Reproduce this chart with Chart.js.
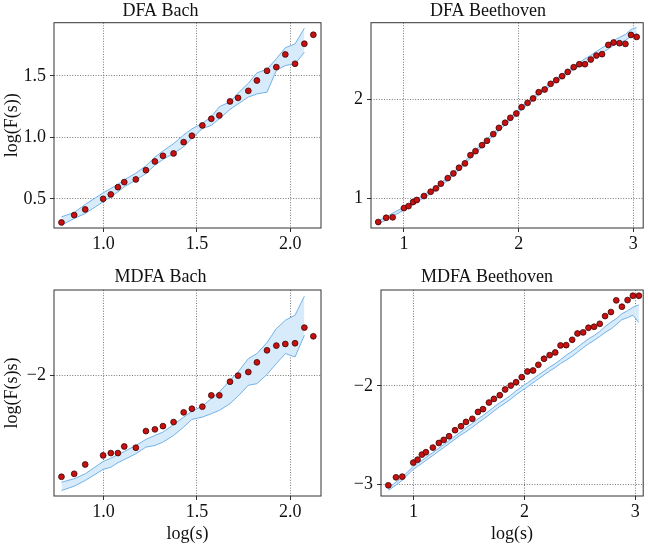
<!DOCTYPE html>
<html><head><meta charset="utf-8">
<script src="https://cdn.jsdelivr.net/npm/chart.js@4/dist/chart.umd.min.js"></script>
<style>
html,body{margin:0;padding:0;background:#fff;}
body{width:648px;height:546px;position:relative;overflow:hidden;}
canvas{position:absolute;}
</style></head><body>
<canvas id="c1" width="330" height="250" style="left:0px;top:0px;width:330px;height:250px"></canvas>
<canvas id="c2" width="318" height="250" style="left:330px;top:0px;width:318px;height:250px"></canvas>
<canvas id="c3" width="330" height="281" style="left:0px;top:265px;width:330px;height:281px"></canvas>
<canvas id="c4" width="318" height="281" style="left:330px;top:265px;width:318px;height:281px"></canvas>
<script>
// ---------- data ----------
const bachX = [0.775,0.843,0.902,0.998,1.039,1.077,1.111,1.173,1.227,1.275,1.318,1.375,1.429,1.473,1.529,1.577,1.620,1.677,1.720,1.775,1.821,1.875,1.925,1.973,2.025,2.075,2.123];
const dfaBachY = [0.309,0.369,0.415,0.501,0.537,0.596,0.637,0.659,0.734,0.805,0.851,0.870,0.962,1.014,1.098,1.152,1.179,1.293,1.322,1.379,1.463,1.542,1.572,1.675,1.599,1.762,1.835];
const dfaBachUpper = [0.355,0.390,0.455,0.550,0.585,0.620,0.655,0.710,0.770,0.840,0.890,0.950,1.020,1.070,1.115,1.168,1.250,1.290,1.360,1.440,1.525,1.555,1.640,1.730,1.760,1.889];
const dfaBachLower = [0.287,0.341,0.382,0.477,0.518,0.558,0.599,0.653,0.707,0.775,0.821,0.870,0.924,0.992,1.073,1.098,1.151,1.228,1.273,1.328,1.354,1.368,1.545,1.585,1.598,1.693];

const beetX = [0.776,0.845,0.902,1.000,1.040,1.080,1.112,1.175,1.233,1.279,1.322,1.382,1.431,1.480,1.532,1.580,1.624,1.681,1.724,1.779,1.828,1.882,1.928,1.980,2.026,2.078,2.126,2.175,2.227,2.279,2.328,2.379,2.428,2.480,2.529,2.578,2.629,2.678,2.727,2.782,2.828,2.879,2.931,2.980,3.029];
const dfaBeetY = [0.766,0.809,0.813,0.906,0.926,0.967,0.987,1.027,1.070,1.104,1.151,1.207,1.254,1.311,1.355,1.438,1.478,1.538,1.582,1.649,1.712,1.763,1.813,1.856,1.920,1.963,2.007,2.070,2.097,2.154,2.191,2.231,2.274,2.321,2.351,2.351,2.398,2.438,2.452,2.545,2.569,2.562,2.555,2.645,2.625];
const dfaBeetUpper = [0.78,0.815,0.855,0.915,0.94,0.97,0.995,1.04,1.08,1.115,1.16,1.215,1.265,1.32,1.375,1.44,1.49,1.55,1.60,1.66,1.715,1.77,1.82,1.87,1.925,1.975,2.02,2.075,2.115,2.165,2.205,2.245,2.285,2.33,2.37,2.405,2.44,2.48,2.515,2.555,2.59,2.62,2.65,2.70,2.72];
const dfaBeetLower = [0.75,0.785,0.825,0.885,0.91,0.94,0.965,1.01,1.05,1.085,1.13,1.185,1.235,1.29,1.345,1.41,1.46,1.52,1.57,1.63,1.685,1.74,1.79,1.84,1.895,1.945,1.99,2.045,2.085,2.135,2.175,2.215,2.255,2.30,2.33,2.355,2.39,2.43,2.465,2.505,2.54,2.57,2.59,2.63,2.66];

const mdfaBachY = [-2.815,-2.791,-2.716,-2.643,-2.624,-2.624,-2.571,-2.581,-2.447,-2.433,-2.407,-2.374,-2.296,-2.267,-2.250,-2.159,-2.159,-2.049,-2.000,-1.971,-1.893,-1.796,-1.758,-1.745,-1.739,-1.613,-1.683];
const mdfaBachUpper = [-2.859,-2.831,-2.791,-2.692,-2.665,-2.638,-2.611,-2.563,-2.514,-2.482,-2.455,-2.395,-2.334,-2.288,-2.245,-2.186,-2.132,-2.038,-1.971,-1.863,-1.822,-1.734,-1.621,-1.554,-1.513,-1.360];
const mdfaBachLower = [-2.926,-2.891,-2.845,-2.756,-2.738,-2.702,-2.676,-2.630,-2.576,-2.563,-2.536,-2.482,-2.415,-2.353,-2.334,-2.307,-2.280,-2.226,-2.165,-2.078,-2.065,-1.990,-1.903,-1.822,-1.850,-1.675];

const mBeetX = [0.772,0.841,0.898,0.997,1.036,1.075,1.111,1.174,1.228,1.272,1.320,1.374,1.428,1.473,1.530,1.581,1.626,1.680,1.725,1.778,1.826,1.877,1.925,1.976,2.027,2.078,2.126,2.177,2.228,2.278,2.326,2.377,2.431,2.479,2.530,2.578,2.629,2.680,2.728,2.781,2.829,2.880,2.931,2.979,3.033];
const mdfaBeetY = [-3.007,-2.926,-2.919,-2.777,-2.747,-2.696,-2.672,-2.625,-2.578,-2.547,-2.510,-2.449,-2.409,-2.365,-2.334,-2.264,-2.236,-2.169,-2.132,-2.095,-2.037,-1.997,-1.963,-1.912,-1.855,-1.845,-1.787,-1.726,-1.689,-1.662,-1.591,-1.588,-1.534,-1.470,-1.459,-1.412,-1.402,-1.372,-1.294,-1.253,-1.135,-1.199,-1.132,-1.088,-1.088];
const mdfaBeetUpper = [-3.037,-2.975,-2.925,-2.815,-2.785,-2.755,-2.725,-2.675,-2.63,-2.595,-2.555,-2.51,-2.465,-2.425,-2.38,-2.335,-2.30,-2.255,-2.215,-2.17,-2.135,-2.095,-2.05,-2.01,-1.97,-1.93,-1.89,-1.85,-1.81,-1.775,-1.735,-1.69,-1.65,-1.61,-1.565,-1.525,-1.49,-1.45,-1.40,-1.355,-1.32,-1.27,-1.24,-1.205,-1.18];
const mdfaBeetLower = [-3.057,-3.005,-2.955,-2.845,-2.815,-2.785,-2.755,-2.705,-2.66,-2.625,-2.585,-2.54,-2.495,-2.465,-2.42,-2.375,-2.34,-2.295,-2.255,-2.21,-2.175,-2.135,-2.09,-2.05,-2.01,-1.97,-1.93,-1.89,-1.85,-1.815,-1.775,-1.74,-1.70,-1.66,-1.615,-1.575,-1.54,-1.50,-1.46,-1.425,-1.38,-1.33,-1.31,-1.285,-1.36];

// tick values and labels
const bachXTicks = [1.0, 1.5, 2.0];
const bachXLabels = ['1.0', '1.5', '2.0'];
const beetXTicks = [1, 2, 3];
const beetXLabels = ['1', '2', '3'];
const dfaBachYTicks = [0.5, 1.0, 1.5];
const dfaBachYLabels = ['0.5', '1.0', '1.5'];
const dfaBeetYTicks = [1, 2];
const dfaBeetYLabels = ['1', '2'];
const mdfaBachYTicks = [-2];
const mdfaBachYLabels = ['\u22122'];
const mdfaBeetYTicks = [-3, -2];
const mdfaBeetYLabels = ['\u22123', '\u22122'];

// ---------- drawing ----------
const FONT = "'Liberation Serif','Times New Roman',serif";
const FS = 18;
const pts = (xs, ys) => ys.map((y, i) => ({x: xs[i], y}));

const framePlugin = {
  id: 'frame',
  afterDraw(chart) {
    const {ctx, chartArea: a} = chart;
    ctx.save();
    ctx.strokeStyle = '#333';
    ctx.lineWidth = 1;
    ctx.strokeRect(a.left, a.top, a.right - a.left, a.bottom - a.top);
    ctx.restore();
  }
};

function axis(min, max, tv, tl, title, size, isX) {
  return {
    type: 'linear', min, max,
    afterBuildTicks: s => { s.ticks = tv.map(v => ({value: v})); },
    afterFit: s => { if (isX) s.height = size; else s.width = size; },
    ticks: {
      callback: (v, i) => tl[i], font: {family: FONT, size: FS}, color: '#111',
      padding: isX ? 1 : 4, maxRotation: 0, autoSkip: false
    },
    grid: {
      color: '#555', lineWidth: 0.8, tickLength: 4, tickColor: '#333', tickWidth: 1,
      tickBorderDash: [], drawTicks: true
    },
    border: {display: false, dash: [1, 1.6]},
    title: {
      display: !!title, text: title, color: '#111', font: {family: FONT, size: FS},
      padding: isX ? {top: 0, bottom: 0.5} : {top: 1.5, bottom: 0}
    }
  };
}

function makeChart(id, o) {
  new Chart(document.getElementById(id), {
    type: 'scatter',
    data: {
      datasets: [
        {
          data: pts(o.xs, o.ys), pointRadius: 2.9, pointBackgroundColor: '#c81010',
          pointBorderColor: '#3a0505', pointBorderWidth: 0.8, showLine: false
        },
        {
          type: 'line', data: pts(o.xs, o.up), borderColor: '#72b2e8', borderWidth: 1,
          pointRadius: 0, tension: 0, fill: false
        },
        {
          type: 'line', data: pts(o.xs, o.lo), borderColor: '#72b2e8', borderWidth: 1,
          pointRadius: 0, tension: 0, fill: '-1', backgroundColor: '#d8ebfa'
        }
      ]
    },
    options: {
      responsive: false, animation: false, devicePixelRatio: 1,
      layout: {padding: {left: 0, right: o.padRight, top: 0, bottom: 0}},
      plugins: {
        legend: {display: false}, tooltip: {enabled: false},
        title: {
          display: true, text: o.title, color: '#111',
          font: {family: FONT, size: FS, weight: 'normal'},
          padding: o.titlePad
        }
      },
      scales: {
        x: axis(o.xMin, o.xMax, o.xTicks, o.xLabels, o.xTitle, o.xHeight, true),
        y: axis(o.yMin, o.yMax, o.yTicks, o.yLabels, o.yTitle, o.yWidth, false)
      }
    },
    plugins: [framePlugin]
  });
}

makeChart('c1', {
  title: 'DFA Bach', xs: bachX, ys: dfaBachY, up: dfaBachUpper, lo: dfaBachLower,
  xMin: 0.735, xMax: 2.164, yMin: 0.264, yMax: 1.933,
  xTicks: bachXTicks, xLabels: bachXLabels, yTicks: dfaBachYTicks, yLabels: dfaBachYLabels,
  yTitle: 'log(F(s))', xTitle: '', yWidth: 54, xHeight: 22, padRight: 9,
  titlePad: {top: 0, bottom: 1.1}
});
makeChart('c2', {
  title: 'DFA Beethoven', xs: beetX, ys: dfaBeetY, up: dfaBeetUpper, lo: dfaBeetLower,
  xMin: 0.713, xMax: 3.086, yMin: 0.706, yMax: 2.768,
  xTicks: beetXTicks, xLabels: beetXLabels, yTicks: dfaBeetYTicks, yLabels: dfaBeetYLabels,
  yTitle: '', xTitle: '', yWidth: 41, xHeight: 22, padRight: 2,
  titlePad: {top: 0, bottom: 1.1}
});
makeChart('c3', {
  title: 'MDFA Bach', xs: bachX, ys: mdfaBachY, up: mdfaBachUpper, lo: mdfaBachLower,
  xMin: 0.735, xMax: 2.164, yMin: -2.97, yMax: -1.31,
  xTicks: bachXTicks, xLabels: bachXLabels, yTicks: mdfaBachYTicks, yLabels: mdfaBachYLabels,
  yTitle: 'log(F(s)s)', xTitle: 'log(s)', yWidth: 54, xHeight: 50, padRight: 9,
  titlePad: {top: 1.7, bottom: 1.7}
});
makeChart('c4', {
  title: 'MDFA Beethoven', xs: mBeetX, ys: mdfaBeetY, up: mdfaBeetUpper, lo: mdfaBeetLower,
  xMin: 0.706, xMax: 3.072, yMin: -3.115, yMax: -1.03,
  xTicks: beetXTicks, xLabels: beetXLabels, yTicks: mdfaBeetYTicks, yLabels: mdfaBeetYLabels,
  yTitle: '', xTitle: 'log(s)', yWidth: 51, xHeight: 50, padRight: 4,
  titlePad: {top: 1.2, bottom: 2.2}
});
</script>
</body></html>
